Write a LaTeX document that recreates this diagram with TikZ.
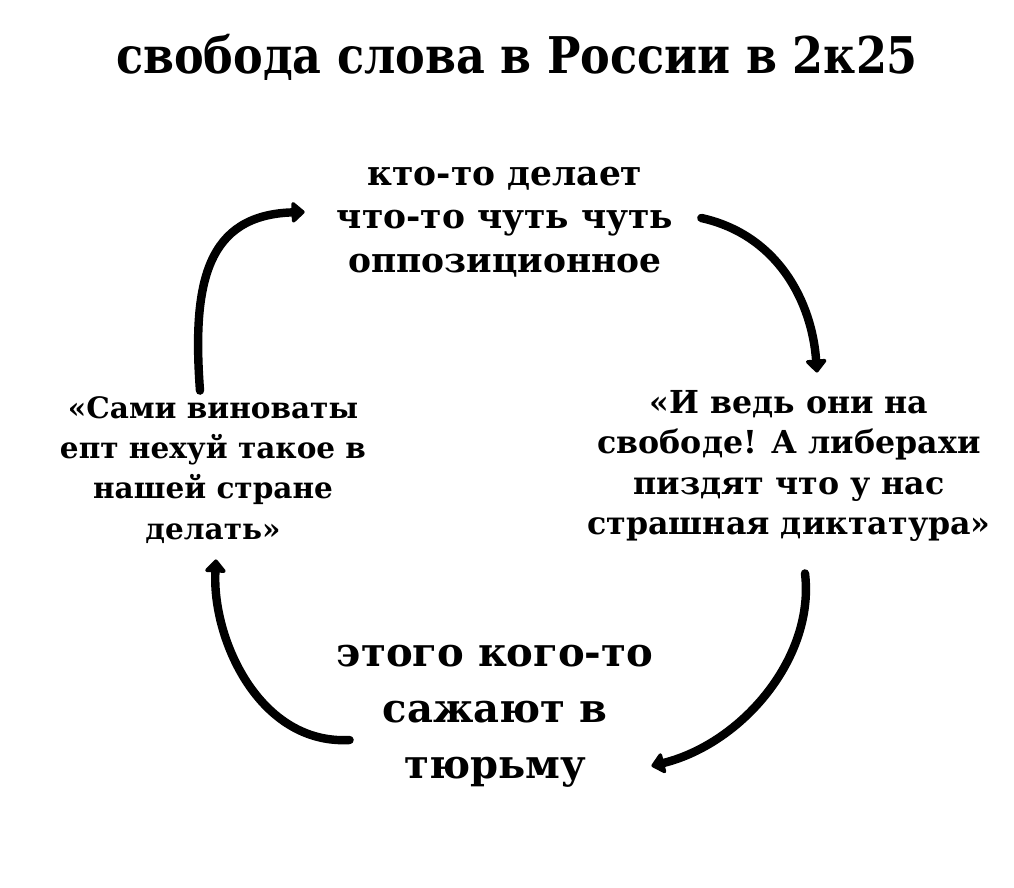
\documentclass[tikz,border=0pt]{standalone}
\usepackage{fontspec}
\setmainfont{DejaVu Serif}
\newfontfamily\titlefont{DejaVu Serif}[FakeStretch=0.88]
\usetikzlibrary{calc,arrows.meta}

\tikzset{
  stage/.style={align=center,font=\bfseries\fontsize{22.5}{28.5}\selectfont,inner sep=0pt},
  cyc/.style={line width=6pt,line cap=round,line join=round,-{Triangle[length=10pt,width=17pt,round]}}
}

\begin{document}
\begin{tikzpicture}[x=0.25mm,y=-0.25mm]
  \useasboundingbox (0,0) rectangle (1014,888);
  % заголовок
  \node[font=\titlefont\bfseries\fontsize{36}{40}\selectfont] (title) at (517,57) {свобода слова в России в 2к25};
  % четыре стадии
  \node[stage,font=\bfseries\fontsize{24.5}{31}\selectfont] (act) at (505,222) {кто-то делает\\что-то чуть чуть\\оппозиционное};
  \node[stage] (excuse) at (789,466) {«И ведь они на\\свободе! А либерахи\\пиздят что у нас\\страшная диктатура»};
  \node[stage,font=\bfseries\fontsize{28.5}{39.8}\selectfont] (jail) at (495,716) {этого кого-то\\сажают в\\тюрьму};
  \node[stage,font=\bfseries\fontsize{21}{28.5}\selectfont] (blame) at (213,470) {«Сами виноваты\\епт нехуй такое в\\нашей стране\\делать»};
  % стрелки по кругу
  \draw[cyc] ($(blame.north)+(-13,-6)$) .. controls +(-8,-108) and +(-98,3) .. ($(act.west)+(-32,-10)$);
  \draw[cyc] ($(act.east)+(28,-4)$) .. controls +(77,17) and +(-5,-70) .. ($(excuse.north)+(28,-18)$);
  \draw[cyc] ($(excuse.south)+(16,32)$) .. controls +(10,83) and +(92,-23) .. ($(jail.east)+(-2,50)$);
  \draw[cyc] ($(jail.west)+(13,24)$) .. controls +(-90,5) and +(-4,80) .. ($(blame.south)+(3,16)$);
\end{tikzpicture}
\end{document}
